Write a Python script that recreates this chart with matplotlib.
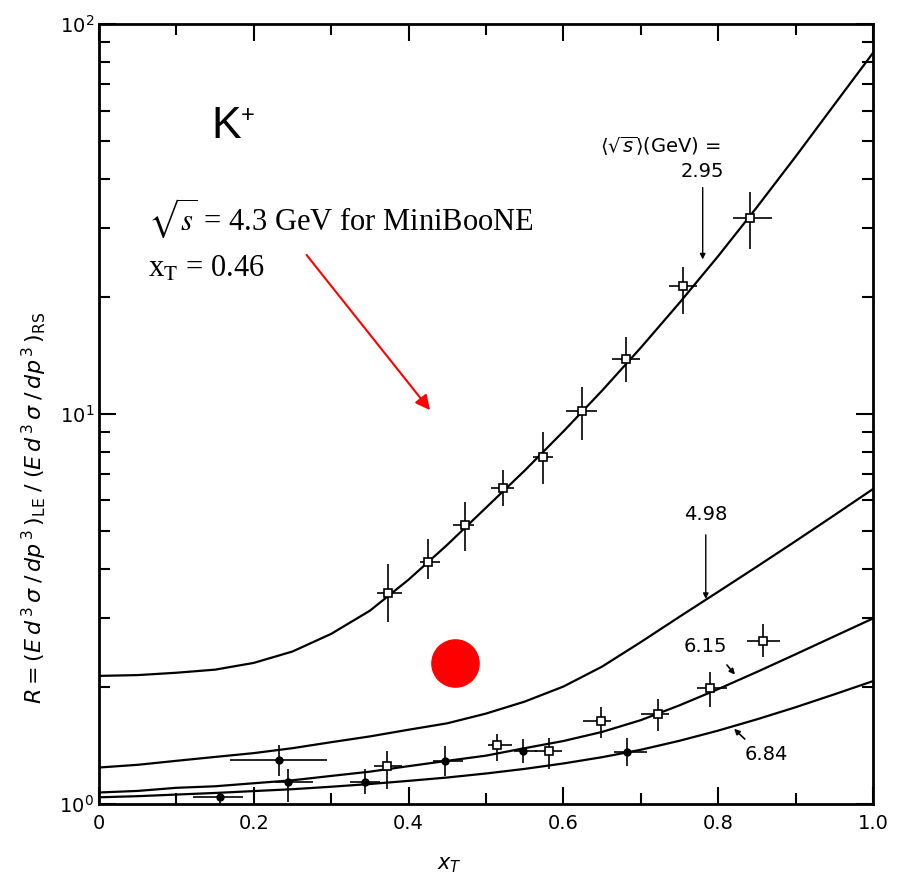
import numpy as np
import matplotlib.pyplot as plt
from matplotlib.ticker import LogLocator, NullFormatter

# model curves, every 0.05 in x_T
xt = [0.0, 0.05, 0.1, 0.15, 0.2, 0.25, 0.3, 0.35, 0.4, 0.45, 0.5,
      0.55, 0.6, 0.65, 0.7, 0.75, 0.8, 0.85, 0.9, 0.95, 1.0]
r_295 = [2.13, 2.14, 2.17, 2.21, 2.30, 2.46, 2.73, 3.13, 3.76, 4.62, 5.75,
         7.16, 9.02, 11.48, 14.79, 19.28, 25.4, 33.9, 45.7, 62.1, 84.3]
r_498 = [1.24, 1.26, 1.29, 1.32, 1.35, 1.39, 1.44, 1.49, 1.55, 1.61, 1.705,
         1.83, 2.0, 2.25, 2.6, 3.02, 3.5, 4.06, 4.72, 5.5, 6.42]
r_615 = [1.07, 1.08, 1.10, 1.11, 1.13, 1.15, 1.18, 1.21, 1.25, 1.29, 1.33,
         1.39, 1.45, 1.53, 1.64, 1.79, 1.97, 2.18, 2.42, 2.69, 2.99]
r_684 = [1.04, 1.047, 1.057, 1.067, 1.079, 1.091, 1.107, 1.125, 1.146, 1.169,
         1.197, 1.23, 1.27, 1.318, 1.377, 1.452, 1.542, 1.648, 1.77, 1.91, 2.065]

# data, sqrt(s) = 2.95 GeV
up_x = [0.374, 0.425, 0.473, 0.522, 0.574, 0.624, 0.681, 0.755, 0.841]
up_r = [3.47, 4.17, 5.19, 6.47, 7.77, 10.2, 13.8, 21.3, 31.8]
up_lo = [2.93, 3.78, 4.46, 5.8, 6.6, 8.6, 12.1, 18.1, 26.5]
up_hi = [4.12, 4.77, 5.95, 7.2, 8.98, 11.7, 15.8, 23.8, 37.0]
up_xlo = [0.359, 0.415, 0.457, 0.506, 0.561, 0.604, 0.663, 0.736, 0.819]
up_xhi = [0.391, 0.441, 0.485, 0.536, 0.587, 0.643, 0.699, 0.773, 0.870]

# open squares, lower set
sq_x = [0.858, 0.79, 0.722, 0.649, 0.581, 0.514, 0.372]
sq_r = [2.62, 1.98, 1.70, 1.63, 1.37, 1.42, 1.25]
sq_lo = [2.38, 1.77, 1.54, 1.48, 1.23, 1.29, 1.09]
sq_hi = [2.89, 2.18, 1.86, 1.77, 1.48, 1.51, 1.37]
sq_xlo = [0.837, 0.772, 0.700, 0.625, 0.563, 0.503, 0.355]
sq_xhi = [0.880, 0.811, 0.737, 0.661, 0.598, 0.533, 0.392]

# filled circles
dot_x = [0.682, 0.548, 0.447, 0.344, 0.244, 0.233, 0.156]
dot_r = [1.36, 1.37, 1.29, 1.14, 1.14, 1.30, 1.04]
dot_lo = [1.25, 1.27, 1.18, 1.06, 1.01, 1.18, 1.0]
dot_hi = [1.48, 1.47, 1.41, 1.23, 1.23, 1.42, 1.07]
dot_xlo = [0.665, 0.536, 0.432, 0.324, 0.228, 0.169, 0.121]
dot_xhi = [0.708, 0.566, 0.470, 0.363, 0.276, 0.295, 0.186]

mb_x, mb_r = 0.46, 2.30


def errs(x, r, lo, hi, xlo, xhi):
    x, r = np.array(x), np.array(r)
    yerr = [r - np.array(lo), np.array(hi) - r]
    xerr = [x - np.array(xlo), np.array(xhi) - x]
    return x, r, xerr, yerr


fig = plt.figure(figsize=(9.05, 8.77), dpi=100)
ax = fig.add_axes([0.1094, 0.0833, 0.8552, 0.8893])

for r in (r_295, r_498, r_615, r_684):
    ax.plot(xt, r, color='black', lw=1.6)

x, r, xe, ye = errs(up_x, up_r, up_lo, up_hi, up_xlo, up_xhi)
ax.errorbar(x, r, yerr=ye, xerr=xe, fmt='s', ms=6, mfc='white', mec='black',
            mew=1.2, ecolor='black', elinewidth=1.2, capsize=0)
ax.plot(x, r, 'o', ms=3, color='black')

x, r, xe, ye = errs(sq_x, sq_r, sq_lo, sq_hi, sq_xlo, sq_xhi)
ax.errorbar(x, r, yerr=ye, xerr=xe, fmt='s', ms=6, mfc='white', mec='black',
            mew=1.2, ecolor='black', elinewidth=1.2, capsize=0)

x, r, xe, ye = errs(dot_x, dot_r, dot_lo, dot_hi, dot_xlo, dot_xhi)
ax.errorbar(x, r, yerr=ye, xerr=xe, fmt='o', ms=5, color='black',
            elinewidth=1.2, capsize=0)

ax.plot(mb_x, mb_r, 'o', ms=34, color='red', zorder=5)

ax.set_yscale('log')
ax.set_xlim(0, 1.0)
ax.set_ylim(1, 100)
ax.set_xticks([0, 0.2, 0.4, 0.6, 0.8, 1.0])
ax.set_xticklabels(['0', '0.2', '0.4', '0.6', '0.8', '1.0'])
ax.set_xticks(np.arange(0.1, 1.0, 0.2), minor=True)
ax.yaxis.set_minor_locator(LogLocator(base=10, subs=np.arange(2, 10)))
ax.yaxis.set_minor_formatter(NullFormatter())
ax.tick_params(which='both', direction='in', top=True, right=True,
               width=1.5, labelsize=14)
ax.tick_params(which='major', length=12)
ax.tick_params(which='minor', length=8)
ax.tick_params(axis='x', pad=7)
for s in ax.spines.values():
    s.set_linewidth(2)

ax.set_xlabel('$x_T$', fontsize=15)
ax.xaxis.set_label_coords(0.453, -0.066)
ax.set_ylabel(r'$R=(E\,d^{\,3}\,\sigma\;/\,dp^{\,3}\,)_{\mathrm{LE}}\;/\;'
              r'(E\,d^{\,3}\,\sigma\;/\,dp^{\,3}\,)_{\mathrm{RS}}$',
              fontsize=16)
ax.yaxis.set_label_coords(-0.064, 0.38)

# curve labels
lab = dict(fontsize=14, ha='center', va='center')
ax.text(0.725, 48.4, r'$\langle\sqrt{s}\rangle$(GeV) =', **lab)
ax.text(0.780, 41.8, '2.95', **lab)
ax.annotate('', xy=(0.780, 24.5), xytext=(0.780, 38.7),
            arrowprops=dict(arrowstyle='-|>', color='black', lw=1, mutation_scale=8))
ax.text(0.784, 5.54, '4.98', **lab)
ax.annotate('', xy=(0.784, 3.30), xytext=(0.784, 4.98),
            arrowprops=dict(arrowstyle='-|>', color='black', lw=1, mutation_scale=8))
ax.text(0.783, 2.53, '6.15', **lab)
ax.annotate('', xy=(0.824, 2.12), xytext=(0.809, 2.30),
            arrowprops=dict(arrowstyle='-|>', color='black', lw=1.2, mutation_scale=8))
ax.text(0.862, 1.34, '6.84', **lab)
ax.annotate('', xy=(0.818, 1.576), xytext=(0.837, 1.45),
            arrowprops=dict(arrowstyle='-|>', color='black', lw=1.2, mutation_scale=8))

# overlaid notes
ax.text(0.164, 0.868, 'K', transform=ax.transAxes, fontsize=32,
        family='Liberation Sans', ha='center', va='center')
ax.text(0.192, 0.882, '+', transform=ax.transAxes, fontsize=17,
        family='Liberation Sans', ha='center', va='center')
ax.text(0.063, 0.736, r'$\sqrt{s}$ = 4.3 GeV for MiniBooNE', transform=ax.transAxes,
        fontsize=22, family='Liberation Serif', math_fontfamily='stix',
        ha='left', va='baseline')
ax.text(0.063, 0.676, r'x$_{\mathrm{T}}$ = 0.46', transform=ax.transAxes,
        fontsize=22, family='Liberation Serif', math_fontfamily='stix',
        ha='left', va='baseline')
ax.annotate('', xy=(0.430, 10.1), xytext=(0.266, 25.9),
            arrowprops=dict(arrowstyle='-|>', color='red', lw=1.5, mutation_scale=22))

fig.savefig('out.png', dpi=100)
